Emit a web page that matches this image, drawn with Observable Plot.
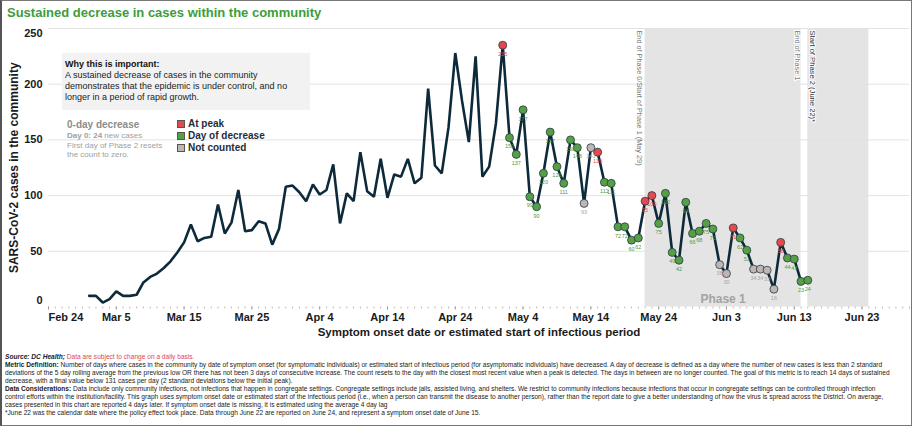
<!DOCTYPE html>
<html><head><meta charset="utf-8">
<script src="https://cdn.jsdelivr.net/npm/d3@7"></script>
<script src="https://cdn.jsdelivr.net/npm/@observablehq/plot@0.6"></script>
<style>
html,body{margin:0;padding:0;background:#fff;}
#wrap{position:relative;width:912px;height:426px;overflow:hidden;font-family:"Liberation Sans",Arial,sans-serif;color:#222;}
#frame{position:absolute;left:0;top:0;width:912px;height:426px;box-sizing:border-box;border:1px solid #777;border-left:2px solid #555;pointer-events:none;}
#chart{position:absolute;left:0;top:0;}
#title{position:absolute;left:7px;top:5px;font-weight:bold;font-size:13px;color:#3c9d3a;white-space:nowrap;}
#why{position:absolute;left:62px;top:53px;width:248px;height:57px;background:#f2f2f2;font-size:9px;line-height:11px;color:#222;padding:6px 0 0 3px;box-sizing:border-box;}
#why b{color:#111;}
#zero{position:absolute;left:67px;top:118px;color:#8c8c8c;}
#zero .h{font-weight:bold;font-size:10px;line-height:13px;}
#zero .s{font-size:8px;line-height:9.5px;color:#a0a0a0;white-space:nowrap;}
#legend{position:absolute;left:177px;top:118px;}
#legend .it{font-weight:bold;font-size:10px;line-height:12px;color:#1e2e3a;white-space:nowrap;}
#legend .sw{display:inline-block;width:8px;height:8px;border:1px solid #555;box-sizing:border-box;margin-right:3px;vertical-align:-0.5px;}
#notes{position:absolute;left:5px;top:353px;font-size:7px;color:#222;}
#notes div{white-space:nowrap;height:8px;line-height:8px;}
#notes .red{color:#e0484f;}
</style></head><body>
<div id="wrap">
<div id="chart"></div>
<div id="title">Sustained decrease in cases within the community</div>
<div id="why"><b>Why this is important:</b><br>A sustained decrease of cases in the community<br>demonstrates that the epidemic is under control, and no<br>longer in a period of rapid growth.</div>
<div id="zero"><div class="h">0-day decrease</div><div class="s"><b>Day 0: 24</b> new cases</div><div class="s">First day of Phase 2 resets</div><div class="s">the count to zero.</div></div>
<div id="legend"></div>
<div id="notes">
<div><b><i>Source: DC Health;</i></b> <span class="red">Data are subject to change on a daily basis.</span></div>
<div class="fit"><b>Metric Definition:</b> Number of days where cases in the community by date of symptom onset (for symptomatic individuals) or estimated start of infectious period (for asymptomatic individuals) have decreased. A day of decrease is defined as a day where the number of new cases is less than 2 standard</div>
<div>deviations of the 5 day rolling average from the previous low OR there has not been 3 days of consecutive increase. The count resets to the day with the closest most recent value when a peak is detected. The days in between are no longer counted. The goal of this metric is to reach 14 days of sustained</div>
<div>decrease, with a final value below 131 cases per day (2 standard deviations below the initial peak).</div>
<div><b>Data Considerations:</b> Data include only community infections, not infections that happen in congregate settings. Congregate settings include jails, assisted living, and shelters. We restrict to community infections because infections that occur in congregate settings can be controlled through infection</div>
<div>control efforts within the institution/facility. This graph uses symptom onset date or estimated start of the infectious period (i.e., when a person can transmit the disease to another person), rather than the report date to give a better understanding of how the virus is spread across the District. On average,</div>
<div>cases presented in this chart are reported 4 days later. If symptom onset date is missing, it is estimated using the average 4 day lag</div>
<div>*June 22 was the calendar date where the policy effect took place. Data through June 22 are reported on June 24, and represent a symptom onset date of June 15.</div>
</div>
<div id="frame"></div>
</div>
<script>
// ---- data ----
const startDate = "2020-03-01";
const cases = [10,10,4,7,14,10,10,11,22,27,30,35,41,49,58,74,59,62,63,92,
  66,76,105,68,69,77,75,56,70,108,109,103,95,110,101,105,128,75,102,95,
  139,104,99,133,98,119,117,133,111,116,196,127,120,161,228,185,148,225,117,126,
  165,235,152,137,177,99,90,120,157,126,111,150,143,93,143,139,112,111,72,72,
  60,62,95,100,75,102,49,42,94,66,68,75,70,38,30,71,62,51,34,34,33,16,58,44,43,23,24];
const trackedFrom = "2020-05-01";
const status = ["P","D","D","D","D","D","D","D","D","D","D","D","N","N","P","D","D","D","D","D","D",
  "P","P","D","D","D","D","D","D","D","D","D","N","N","P","D","D","N","N","N","N","P","D","D","D","D"];
const statusNames = {P: "At peak", D: "Day of decrease", N: "Not counted"};
const statusFill = {P: "#e5484f", D: "#55a044", N: "#bdb6b4"};
const statusText = {P: "#e5484f", D: "#4f9a40", N: "#a9a3a1"};
const xTickDates = ["2020-02-24","2020-03-05","2020-03-15","2020-03-25","2020-04-04","2020-04-14",
  "2020-04-24","2020-05-04","2020-05-14","2020-05-24","2020-06-03","2020-06-13","2020-06-23"];
const yTicks = [0, 50, 100, 150, 200, 250];
const bandStarts = ["2020-05-22", "2020-06-15"];
const bandEnds = ["2020-06-14", "2020-06-24"];
const bandNames = ["Phase 1", ""];
const noteDates = ["2020-05-22", "2020-06-14", "2020-06-15"];
const noteTexts = ["End of Phase 0/Start of Phase 1 (May 29)", "End of Phase 1", "Start of Phase 2 (June 22)*"];
const xDomain = ["2020-02-24", "2020-06-30"];

// ---- build ----
const P = s => new Date(s + "T00:00:00Z");
const series = cases.map((v, i) => ({date: d3.utcDay.offset(P(startDate), i), cases: v}));
const t0 = P(trackedFrom);
const tracked = series.filter(d => d.date >= t0).map((d, i) => ({...d, status: status[i]}));
const bands = bandStarts.map((s, i) => ({x1: P(s), x2: P(bandEnds[i]), name: bandNames[i],
  mid: new Date((+P(s) + +P(bandEnds[i])) / 2)}));
const notes = noteTexts.map((t, i) => ({date: P(noteDates[i]), text: t}));
const dailyTicks = d3.utcDay.range(P(xDomain[0]), d3.utcDay.offset(P(xDomain[1]), 1));
const font = "Liberation Sans, Arial, sans-serif";

const chart = Plot.plot({
  width: 912, height: 345,
  marginLeft: 48, marginRight: 3, marginTop: 28, marginBottom: 38.5,
  style: {fontFamily: font, background: "transparent"},
  x: {type: "utc", domain: xDomain.map(P)},
  y: {domain: [0, 250]},
  marks: [
    Plot.rect(bands, {x1: "x1", x2: "x2", y1: 0, y2: 250, fill: "#e4e4e4"}),
    Plot.ruleY(yTicks.filter(v => v > 0), {stroke: "#e2e2e2", strokeWidth: 1}),
    Plot.text(bands.filter(b => b.name), {x: "mid", y: 0, text: "name", dy: -8, fontSize: 12, fontWeight: "bold", fill: "#a3a3a3"}),
    Plot.text(notes.slice(0, 1), {x: "date", y: 250, text: "text", rotate: 90, textAnchor: "start", dx: -6, dy: 2, fontSize: 7.3, fill: "#7a7a7a"}),
    Plot.text(notes.slice(1, 2), {x: "date", y: 250, text: "text", rotate: 90, textAnchor: "start", dx: -4, dy: 2, fontSize: 7.3, fill: "#7a7a7a", stroke: "white", strokeWidth: 2, paintOrder: "stroke"}),
    Plot.text(notes.slice(2, 3), {x: "date", y: 250, text: "text", rotate: 90, textAnchor: "start", dx: 5, dy: 2, fontSize: 7.6, fill: "#333", stroke: "white", strokeWidth: 2, paintOrder: "stroke"}),
    Plot.axisX({ticks: dailyTicks, tickSize: 2, tickFormat: () => "", stroke: "#c8b8b8"}),
    Plot.axisX({ticks: xTickDates.map(P), tickSize: 3, tickPadding: 3, tickFormat: d3.utcFormat("%b %-d"), fontSize: 11, fontWeight: "bold", fill: "#1a1a1a", stroke: "#999", label: null}),
    Plot.axisY({ticks: yTicks, tickSize: 0, tickPadding: 6, fontSize: 11, fontWeight: "bold", fill: "#1a1a1a", label: null}),
    Plot.text(["SARS-CoV-2 cases in the community"], {frameAnchor: "left", textAnchor: "middle", rotate: -90, dx: -34, fontSize: 12, fontWeight: "bold", fill: "#1a1a1a"}),
    Plot.text(["Symptom onset date or estimated start of infectious period"], {frameAnchor: "bottom", textAnchor: "middle", dy: 28.5, fontSize: 11.5, fontWeight: "bold", fill: "#1a1a1a"}),
    Plot.line(series, {x: "date", y: "cases", stroke: "#0d2a3b", strokeWidth: 2.6, strokeLinejoin: "miter"}),
    Plot.dot(tracked, {x: "date", y: "cases", r: 4, fill: d => statusFill[d.status], stroke: "#2c3b42", strokeWidth: 0.8}),
    Plot.text(tracked, {x: "date", y: "cases", text: d => String(d.cases), dy: 9, fontSize: 5.5, fill: d => statusText[d.status]})
  ]
});
document.getElementById("chart").appendChild(chart);

// axis label nudges (edge labels kept inside the pane, as in the original)
const svg = d3.select(chart);
function nudge(el, dx, dy) {
  const tr = el.getAttribute("transform") || "";
  el.setAttribute("transform", tr + ` translate(${dx},${dy})`);
}
svg.selectAll('g[aria-label="y-axis tick label"] text').each(function() {
  if (this.textContent === "250") nudge(this, 0, 5);
  if (this.textContent === "0") nudge(this, 0, -7);
});
svg.selectAll('g[aria-label="x-axis tick label"] text').each(function() {
  if (this.textContent === "Feb 24") this.setAttribute("text-anchor", "start");
});

// legend
const lg = d3.select("#legend");
for (const k of ["P", "D", "N"]) {
  const it = lg.append("div").attr("class", "it");
  it.append("span").attr("class", "sw").style("background", statusFill[k]);
  it.append("span").text(statusNames[k]);
}

// fit footnote width
const fitEl = document.querySelector("#notes .fit");
const span = document.createElement("span");
span.innerHTML = fitEl.innerHTML; fitEl.innerHTML = ""; fitEl.appendChild(span);
const w = span.getBoundingClientRect().width;
document.getElementById("notes").style.fontSize = (7 * 880 / w) + "px";
</script>
</body></html>
